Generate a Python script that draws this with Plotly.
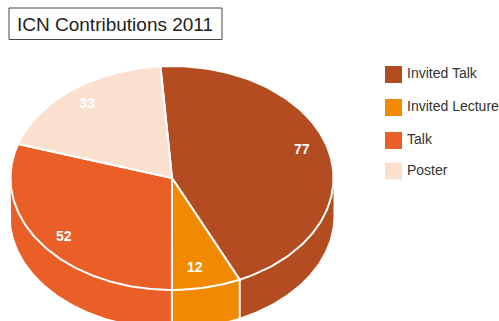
import numpy as np
import plotly.graph_objects as go

categories = ["Invited Talk", "Invited Lecture", "Talk", "Poster"]
values = [77, 12, 52, 33]
colors = ["#B34C21", "#F18A00", "#EA5F28", "#FBE0CF"]
label_dx = [0, -6, 0, -2]
label_dy = [-4, 0, 5, 0]
legend_y = [74.5, 107.5, 140.5, 171]

W, H = 499, 321
CX, CY, RX, RY, DEPTH = 172, 178, 161.5, 112, 38
START = -4.1
LABEL_R = 0.83
FONT = "Liberation Sans, Arial, sans-serif"


def arc(a0, a1, n=120):
    # Angles run clockwise from twelve o'clock on the tilted disc.
    t = np.radians(np.linspace(a0, a1, n))
    return CX + RX * np.sin(t), CY - RY * np.cos(t)


fractions = np.array(values) / sum(values)
edges = START + 360 * np.concatenate([[0], np.cumsum(fractions)])

fig = go.Figure()

# Side wall: only the part of each slice facing the viewer (90 to 270 degrees).
for i, cat in enumerate(categories):
    a0, a1 = max(edges[i], 90), min(edges[i + 1], 270)
    if a1 <= a0:
        continue
    x, y = arc(a0, a1)
    fig.add_trace(go.Scatter(
        x=np.concatenate([x, x[::-1]]),
        y=np.concatenate([y, y[::-1] + DEPTH]),
        mode="lines", fill="toself", fillcolor=colors[i],
        line=dict(width=0), hoverinfo="skip", showlegend=False,
    ))

# White seams where neighbouring slices meet on the wall.
for edge in edges:
    if 90 < edge < 270:
        x, y = arc(edge, edge, 2)
        fig.add_trace(go.Scatter(
            x=x, y=[y[0], y[0] + DEPTH], mode="lines",
            line=dict(color="white", width=2), hoverinfo="skip", showlegend=False,
        ))

# Top face of every slice.
for i, cat in enumerate(categories):
    x, y = arc(edges[i], edges[i + 1])
    fig.add_trace(go.Scatter(
        x=np.concatenate([[CX], x, [CX]]),
        y=np.concatenate([[CY], y, [CY]]),
        mode="lines", fill="toself", fillcolor=colors[i],
        line=dict(color="white", width=2), name=cat, hoverinfo="skip", showlegend=False,
    ))

# Value labels.
mids = np.radians((edges[:-1] + edges[1:]) / 2)
fig.add_trace(go.Scatter(
    x=CX + LABEL_R * RX * np.sin(mids) + np.array(label_dx),
    y=CY - LABEL_R * RY * np.cos(mids) + np.array(label_dy),
    text=[str(v) for v in values], mode="text", textposition="middle center",
    textfont=dict(family=FONT, size=14, color="white", weight="bold"),
    hoverinfo="skip", showlegend=False,
))

# Key on the right.
fig.add_trace(go.Scatter(
    x=[393.5] * len(categories), y=legend_y, mode="markers",
    marker=dict(symbol="square", size=17, color=colors, line=dict(width=0)),
    hoverinfo="skip", showlegend=False,
))
fig.add_trace(go.Scatter(
    x=[407] * len(categories), y=legend_y, text=categories,
    mode="text", textposition="middle right",
    textfont=dict(family=FONT, size=14, color="#333333"),
    hoverinfo="skip", showlegend=False, cliponaxis=False,
))

fig.update_layout(
    width=W, height=H, margin=dict(l=0, r=0, t=0, b=0),
    paper_bgcolor="white", plot_bgcolor="white",
    xaxis=dict(range=[0, W], visible=False, fixedrange=True),
    yaxis=dict(range=[H, 0], visible=False, fixedrange=True),
    shapes=[dict(type="rect", x0=9, y0=8, x1=222, y1=39.5,
                 line=dict(color="#444444", width=1), fillcolor="white")],
    annotations=[dict(x=15, y=24, xanchor="left", yanchor="middle", showarrow=False,
                      text="ICN Contributions 2011",
                      font=dict(family=FONT, size=19, color="#222222"))],
)

fig.write_html("out.html", config={"displayModeBar": False})
